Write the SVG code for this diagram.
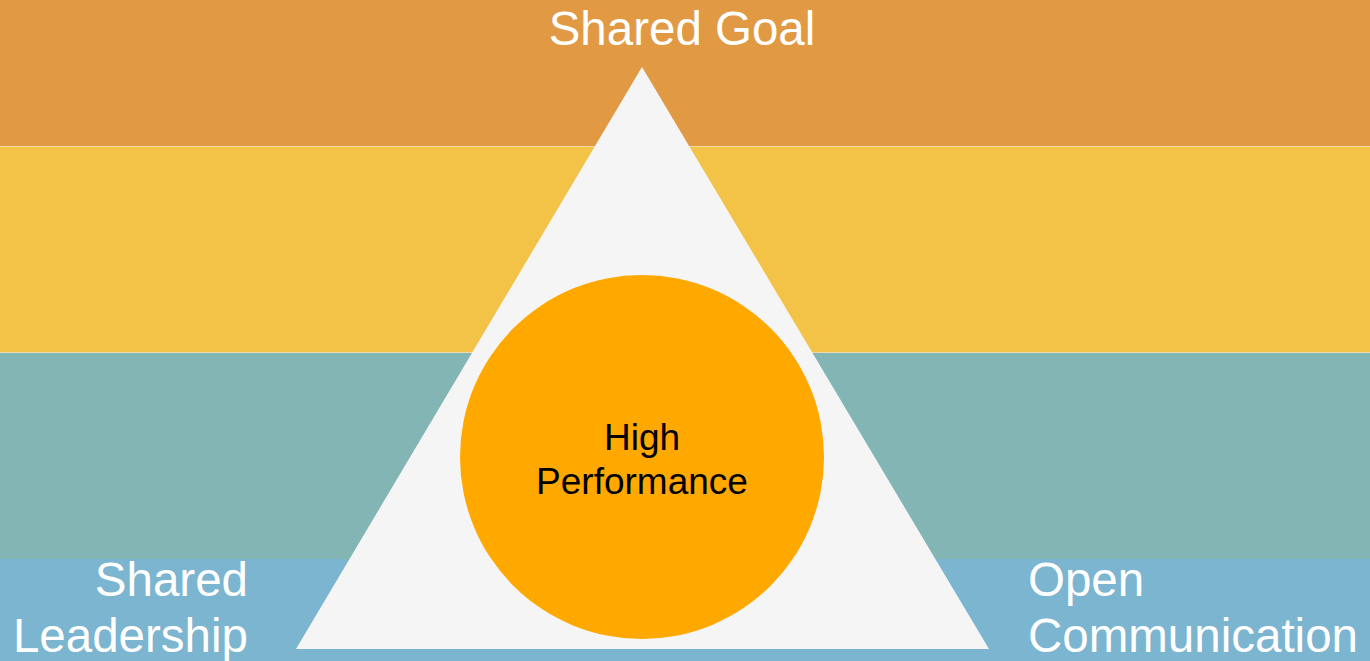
<svg xmlns="http://www.w3.org/2000/svg" width="1370" height="661" viewBox="0 0 1370 661">
  <style>
    .label { font-family: "Liberation Sans", Arial, sans-serif; fill: #ffffff; font-size: 47.5px; }
    .core { font-family: "Liberation Sans", Arial, sans-serif; fill: #000000; font-size: 37px; text-anchor: middle; }
  </style>
  <!-- background bands -->
  <g id="bands">
    <rect x="0" y="0" width="1370" height="146" fill="#E19943"/>
    <rect x="0" y="147" width="1370" height="205" fill="#F3C348"/>
    <rect x="0" y="353" width="1370" height="206" fill="#83B5B5"/>
    <rect x="0" y="559" width="1370" height="102" fill="#7BB5D0"/>
    <rect x="0" y="146" width="1370" height="1" fill="#F6D9A0"/>
    <rect x="0" y="352" width="1370" height="1" fill="#E9DDB0"/>
  </g>
  <g id="triangle">
    <polygon points="642,67 989,649 296,649" fill="#F5F5F5"/>
  </g>
  <g id="high-performance">
    <circle cx="642" cy="457" r="182" fill="#FFA800"/>
    <text class="core" x="642" y="450">High</text>
    <text class="core" x="642" y="494">Performance</text>
  </g>
  <g id="shared-goal">
    <text class="label" x="682" y="45" text-anchor="middle">Shared Goal</text>
  </g>
  <g id="shared-leadership">
    <text class="label" x="248" y="596" text-anchor="end">Shared</text>
    <text class="label" x="248" y="652" text-anchor="end">Leadership</text>
  </g>
  <g id="open-communication">
    <text class="label" x="1028" y="596">Open</text>
    <text class="label" x="1028" y="652">Communication</text>
  </g>
</svg>
